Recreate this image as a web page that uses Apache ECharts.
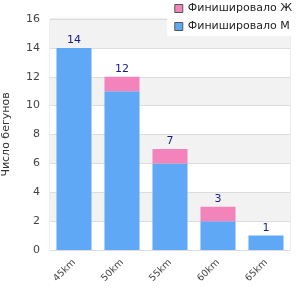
<!DOCTYPE html>
<html>
<head>
<meta charset="utf-8">
<script src="https://cdn.jsdelivr.net/npm/echarts@6/dist/echarts.min.js"></script>
<style>
  html, body { margin: 0; padding: 0; background: #fff; }
  #chart { width: 300px; height: 300px; }
</style>
</head>
<body>
<div id="chart"></div>
<script>
var categories = ['45km', '50km', '55km', '60km', '65km'];
var men = [14, 11, 6, 2, 1];
var women = [0, 1, 1, 1, 0];
var totals = [14, 12, 7, 3, 1];

var myChart = echarts.init(document.getElementById('chart'));

var option = {
    animation: false,
    textStyle: {fontFamily: 'DejaVu Sans'},
    legend: {
        orient: 'vertical',
        right: 0,
        top: 0,
        padding: [3, 8, 4, 7],
        backgroundColor: '#fff',
        itemWidth: 8,
        itemHeight: 8,
        itemGap: 7,
        textStyle: {fontSize: 11, color: '#222'},
        data: [
            {name: 'Финишировало Ж', icon: 'rect', itemStyle: {borderColor: '#555', borderWidth: 1}},
            {name: 'Финишировало М', icon: 'rect', itemStyle: {borderColor: '#555', borderWidth: 1}}
        ]
    },
    grid: {
        left: 50,
        right: 10,
        top: 19,
        bottom: 50,
        outerBoundsMode: 'none',
        containLabel: false,
        show: true,
        borderColor: '#ddd',
        borderWidth: 1,
        backgroundColor: 'transparent'
    },
    xAxis: {
        type: 'category',
        data: categories,
        axisTick: {show: false},
        axisLine: {lineStyle: {color: '#ddd'}},
        axisLabel: {rotate: 45, fontSize: 9.5, color: '#444', margin: 11}
    },
    yAxis: {
        type: 'value',
        min: 0,
        max: 16,
        interval: 2,
        name: 'Число бегунов',
        nameLocation: 'middle',
        nameGap: 38,
        nameTextStyle: {fontSize: 11, color: '#333'},
        axisLabel: {fontSize: 11, color: '#444', margin: 10},
        splitLine: {lineStyle: {color: '#ddd'}},
        splitArea: {show: true, areaStyle: {color: ['#ffffff', '#f2f2f2']}}
    },
    series: [
        {
            name: 'Финишировало М',
            type: 'bar',
            stack: 'total',
            barWidth: '73%',
            itemStyle: {color: '#5fa8f5'},
            data: men
        },
        {
            name: 'Финишировало Ж',
            type: 'bar',
            stack: 'total',
            barWidth: '73%',
            itemStyle: {color: '#f283bb'},
            label: {
                show: true,
                position: 'top',
                distance: 2,
                fontSize: 11,
                color: '#1a1a8c',
                formatter: function (p) {
                    return totals[p.dataIndex];
                }
            },
            data: women
        }
    ]
};

myChart.setOption(option);
</script>
</body>
</html>
